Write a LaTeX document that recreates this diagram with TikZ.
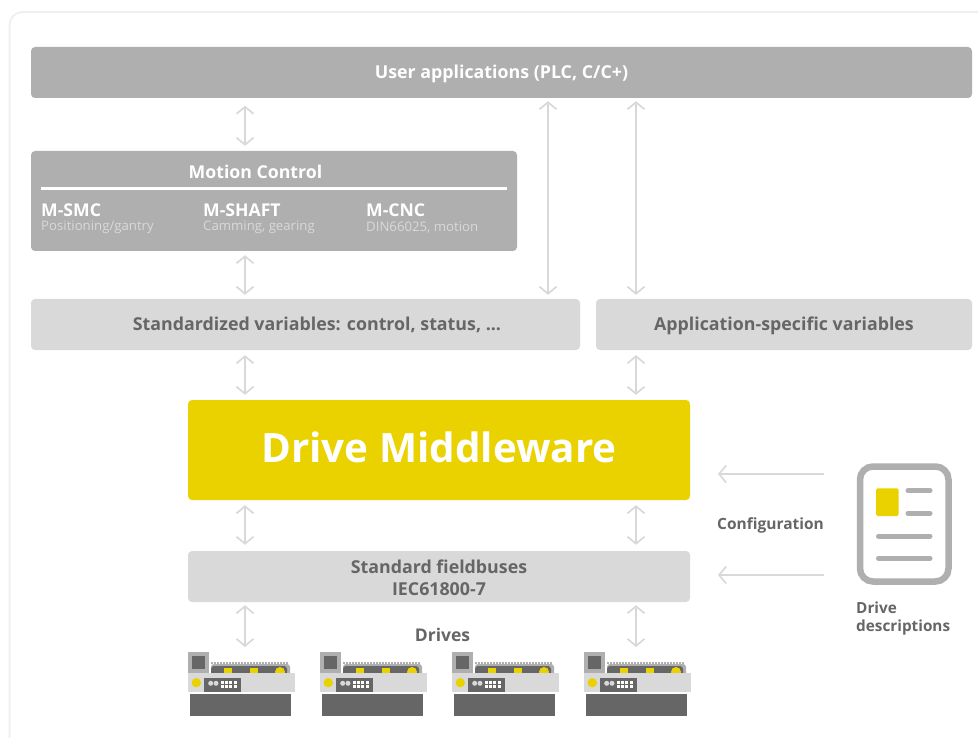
\documentclass[tikz,border=0pt]{standalone}
\usepackage{fontspec}
\setmainfont{Open Sans}[BoldFont={Open Sans Bold}]
\usetikzlibrary{arrows.meta}
\definecolor{dgray}{HTML}{666666}
\definecolor{mgray}{HTML}{AEAFAE}
\definecolor{lgray}{HTML}{D9D9D9}
\definecolor{frame}{HTML}{F0F0F0}
\definecolor{yel}{HTML}{EAD200}
\tikzset{
  x=1pt,y=-1pt,
  box/.style={rounded corners=4pt,inner sep=0pt,font=\fontsize{17.8}{18}\selectfont\bfseries,align=center,text height=12pt,text depth=0pt},
  darkbox/.style={box,fill=mgray,text=white},
  lightbox/.style={box,fill=lgray,text=dgray},
  dbl/.style={draw=lgray,line width=1.7pt,{Straight Barb[length=7pt,width=17pt]}-{Straight Barb[length=7pt,width=17pt]}},
  sgl/.style={draw=lgray,line width=1.7pt,-{Straight Barb[length=7pt,width=17pt]}},
  lbl/.style={inner sep=0pt,text=dgray,font=\fontsize{15.5}{18}\selectfont\bfseries,align=left},
  modname/.style={inner sep=0pt,anchor=west,text=white,font=\fontsize{17.6}{18}\selectfont\bfseries},
  modsub/.style={inner sep=0pt,anchor=west,text=lgray,font=\fontsize{13.2}{15}\selectfont},
  drive/.pic={
    \fill[mgray] (0,652) rectangle (21,673);
    \fill[dgray] (4,656) rectangle (17,669);
    \fill[mgray,rounded corners=3pt] (23,664) rectangle (102,676);
    \draw[mgray,line width=2.4pt,dash pattern=on 2pt off 1pt] (23,663) -- (100,663);
    \fill[dgray,rounded corners=3pt] (23,666) rectangle (99,676);
    \fill[yel] (36,668) rectangle (44,673);
    \fill[yel] (62,668) rectangle (70,673);
    \fill[yel] (92,672) circle (5);
    \fill[lgray] (0,673) rectangle (107,692);
    \fill[yel] (8.3,682.7) circle (4.7);
    \fill[dgray] (16,678) rectangle (53,692);
    \fill[lgray] (22.7,683.3) circle (2.5);
    \fill[lgray] (28,683.3) circle (2.5);
    \foreach \i in {0,1,2,3}\foreach \j in {681,685}
      \fill[white] (32.7+4.3*\i,\j) rectangle ++(3,3);
    \fill[dgray] (2,694) rectangle (103,716);
  }
}
\begin{document}
\begin{tikzpicture}
\clip (0,0) rectangle (978,738);
\fill[white] (0,0) rectangle (978,738);
\draw[frame,line width=2pt,rounded corners=13pt] (9.5,12) rectangle (1000,760);

\node[darkbox,minimum width=941pt,minimum height=51pt] (user) at (501.5,72.5) {User applications (PLC, C/C+)};
\node[darkbox,minimum width=486pt,minimum height=100pt] (mc) at (274,201) {};
\node[inner sep=0pt,text=white,font=\fontsize{17.7}{18}\selectfont\bfseries,text height=12pt,text depth=0pt] (mctitle) at (255.5,173) {Motion Control};
\coordinate (ruleL) at (41,188.5);
\coordinate (ruleR) at (507,188.5);
\draw[white,line width=2.2pt] (ruleL) -- (ruleR);
\node[modname] (m1) at (41,210.5) {M-SMC};
\node[modsub]  (s1) at (41,227.5) {Positioning/gantry};
\node[modname] (m2) at (203,210.5) {M-SHAFT};
\node[modsub]  (s2) at (203,227.5) {Camming, gearing};
\node[modname] (m3) at (366,210.5) {M-CNC};
\node[modsub]  (s3) at (366,227.5) {DIN66025, motion};

\node[lightbox,minimum width=549pt,minimum height=51pt] (std) at (305.5,324.5) {\hspace*{23pt}Standardized variables: control, status, ...};
\node[lightbox,minimum width=376pt,minimum height=51pt] (app) at (784,324.5) {Application-specific variables};
\node[box,fill=yel,text=white,minimum width=502pt,minimum height=100pt,font=\fontsize{40.4}{44}\selectfont\bfseries,text height=29pt,text depth=4pt] (mw) at (439,450) {Drive Middleware};
\node[lightbox,minimum width=502pt,minimum height=51pt] (fb) at (439,576.5) {};
\node[inner sep=0pt,text=dgray,align=center,font=\fontsize{17.8}{22}\selectfont\bfseries] (fbt) at (439,578) {Standard fieldbuses\\IEC61800-7};

\coordinate (xa) at (245,0);
\coordinate (xb) at (548,0);
\coordinate (xc) at (636,0);
\coordinate (da) at (245,647);
\coordinate (db) at (636,647);

\draw[dbl,shorten <=7.5pt,shorten >=5pt] (user.south -| xa) -- (mc.north -| xa);
\draw[dbl,shorten <=4pt,shorten >=4pt] (mc.south -| xa) -- (std.north -| xa);
\draw[dbl,shorten <=3pt,shorten >=4pt] (user.south -| xb) -- (std.north -| xb);
\draw[dbl,shorten <=3pt,shorten >=4pt] (user.south -| xc) -- (app.north -| xc);
\draw[dbl,shorten <=5pt,shorten >=5pt] (std.south -| xa) -- (mw.north -| xa);
\draw[dbl,shorten <=5pt,shorten >=5pt] (app.south -| xc) -- (mw.north -| xc);
\draw[dbl,shorten <=5pt,shorten >=6pt] (mw.south -| xa) -- (fb.north -| xa);
\draw[dbl,shorten <=5pt,shorten >=6pt] (mw.south -| xc) -- (fb.north -| xc);
\draw[dbl,shorten <=3pt] (fb.south -| xa) -- (da);
\draw[dbl,shorten <=3pt] (fb.south -| xc) -- (db);

\node[lbl,font=\fontsize{17.5}{18}\selectfont\bfseries] (drives) at (442.5,635) {Drives};
\pic at (188,0) {drive};
\pic at (320,0) {drive};
\pic at (452,0) {drive};
\pic at (584,0) {drive};

% document icon
\draw[mgray,line width=6.5pt,rounded corners=13pt] (860,466.5) rectangle (948.5,581.5);
\fill[yel,rounded corners=1.5pt] (876,488.3) rectangle (898.7,516);
\draw[mgray,line width=5pt,line cap=round] (908,490.7) -- (930,490.7);
\draw[mgray,line width=5pt,line cap=round] (908,513.3) -- (930,513.3);
\draw[mgray,line width=5pt,line cap=round] (878.5,536) -- (930,536);
\draw[mgray,line width=5pt,line cap=round] (878.5,558.3) -- (930,558.3);
\node[minimum width=95pt,minimum height=122pt,inner sep=0pt] (doc) at (904.2,524) {};
\coordinate (ca) at (718,474);
\coordinate (cb) at (718,575);
\coordinate (sa) at (824,474);
\coordinate (sb) at (824,575);
\draw[sgl] (sa) -- (ca);
\draw[sgl] (sb) -- (cb);
\node[lbl,anchor=west] (cfg) at (717,525) {Configuration};
\node[lbl,anchor=north west,font=\fontsize{15.3}{18}\selectfont\bfseries] (dd) at (856,602) {Drive\\descriptions};
\end{tikzpicture}
\end{document}
